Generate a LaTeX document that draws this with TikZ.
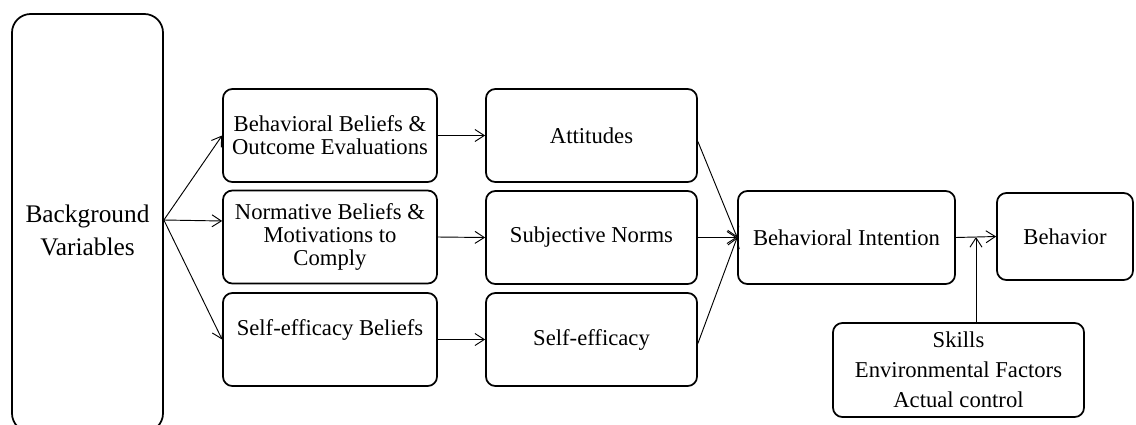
\documentclass[tikz,border=0pt]{standalone}
\usepackage{fontspec}
\setmainfont{Liberation Serif}
\usetikzlibrary{arrows.meta,calc}

\begin{document}
\begin{tikzpicture}[x=0.75pt,y=-0.75pt,
        every node/.style={font=\fontsize{17}{17.25}\selectfont},
        box/.style={draw, line width=1.3pt, rounded corners=7pt, align=center, minimum height=69.75pt},
        link/.style={-{Straight Barb[length=7pt,width=9pt]}, line width=0.7pt}]
        \clip (0,0) rectangle (1136,425);

        \node[box, rounded corners=14pt, minimum width=113.25pt, minimum height=313.5pt] (bg) at (87.5,223) {};
        \node[align=center, font=\fontsize{19}{24.75}\selectfont, yshift=-5.5pt] (bgtext) at (bg.center) {Background\\Variables};

        \node[box, minimum width=160.5pt] (bb) at (330,135.5) {Behavioral Beliefs \&\\Outcome Evaluations};
        \node[box, minimum width=160.5pt] (nb) at (330,237) {Normative Beliefs \&\\Motivations to\\Comply};
        \node[box, minimum width=160.5pt] (sb) at (330,339.5) {Self-efficacy Beliefs\\\mbox{}};

        \node[box, minimum width=158.25pt] (att) at (591.5,135.5) {Attitudes};
        \node[box, minimum width=158.25pt] (sn) at (591.5,237.5) {Subjective Norms};
        \node[box, minimum width=158.25pt] (se) at (591.5,339.5) {Self-efficacy};

        \node[box, minimum width=162.75pt] (bi) at (846.5,237.5) {Behavioral Intention};
        \node[box, minimum width=102pt, minimum height=65.25pt] (beh) at (1065,236.5) {Behavior};

        \node[box, minimum width=188.25pt, minimum height=70.5pt,
            font=\fontsize{17}{22.5}\selectfont] (sk) at (958.5,370) {Skills\\Environmental Factors\\Actual control};

        % beliefs
        \draw[link] ($(bg.east)+(0,-3)$) -- (bb.west);
        \draw[link] ($(bg.east)+(0,-3)$) -- ($(nb.west)+(0,-16)$);
        \draw[link] ($(bg.east)+(0,-3)$) -- (sb.west);

        \draw[link] (bb.east) -- (att.west);
        \draw[link] (nb.east) -- (sn.west);
        \draw[link] (sb.east) -- (se.west);

        % intention
        \draw[link] ($(att.east)+(0,6)$) -- (bi.west);
        \draw[link] (sn.east) -- (bi.west);
        \draw[link] ($(se.east)+(0,4)$) -- (bi.west);

        \draw[link] (bi.east) -- (beh.west);
        \coordinate (ctl) at ($(bi.east)!0.5!(beh.west)$);
        \draw[link] (sk.north -| ctl) -- (ctl);
    \end{tikzpicture}
\end{document}
